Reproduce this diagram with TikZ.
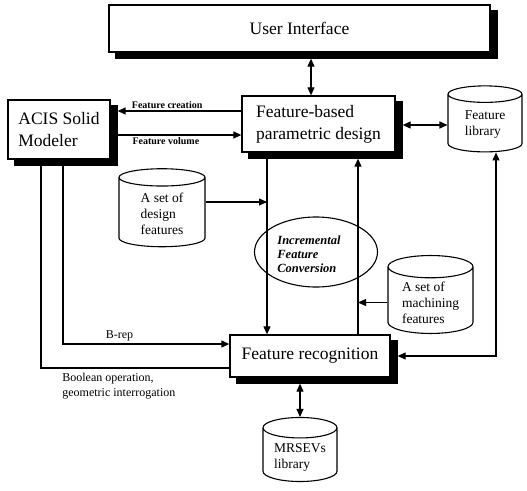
\documentclass[tikz,border=0pt]{standalone}
\usepackage{fontspec}
\setmainfont{Liberation Serif}
\usetikzlibrary{arrows.meta,shapes.geometric,backgrounds}
\begin{document}
\begin{tikzpicture}[x=1pt,y=-1pt,line width=1.1pt,
    box/.style={draw,fill=white,line width=1.3pt,align=left,
      font=\fontsize{17.5}{22}\selectfont},
    store/.style={draw,fill=white,cylinder,shape border rotate=90,aspect=0.35,
      align=left,font=\fontsize{13.5}{16}\selectfont},
    arr/.style={-{Triangle[length=8pt,width=7pt]}},
    dbl/.style={{Triangle[length=8pt,width=7pt]}-{Triangle[length=8pt,width=7pt]}},
    lbl/.style={font=\bfseries\fontsize{10}{12}\selectfont,inner sep=2pt},
    note/.style={font=\fontsize{12}{15}\selectfont,align=left,inner sep=2pt}]
  \useasboundingbox (0,0) rectangle (527,490);
  \coordinate (xa) at (41,0);
  \coordinate (xb) at (63,0);
  \coordinate (xd) at (267,0);
  \coordinate (xu) at (358,0);
  \coordinate (xr) at (496,0);

  \node[box,minimum width=381pt,minimum height=47pt] (ui) at (299.5,28.5) {User Interface};
  \node[box,minimum width=153pt,minimum height=56pt] (fbpd) at (318.5,124) {Feature-based\\parametric design};
  \node[box,minimum width=102pt,minimum height=59pt] (acis) at (59,129.5) {ACIS Solid\\Modeler};
  \node[box,minimum width=160pt,minimum height=42pt] (fr) at (310,356) {Feature recognition};
  \begin{scope}[on background layer]
    \foreach \n in {ui,fbpd,acis,fr}
      \fill ([shift={(7pt,-6pt)}]\n.south west) rectangle ([shift={(7pt,-6pt)}]\n.north east);
  \end{scope}

  \node[store,minimum width=74pt,minimum height=66pt] (flib) at (485,125) {Feature\\library};
  \node[store,minimum width=86pt,minimum height=78pt] (dset) at (162,214) {A set of\\design\\features};
  \node[store,minimum width=85pt,minimum height=71pt] (mset) at (430.5,302.5) {A set of\\machining\\features};
  \node[store,minimum width=74pt,minimum height=64pt] (mrsev) at (300,457) {MRSEVs\\library};

  \node[draw,ellipse,minimum width=123pt,minimum height=70pt] (ifc) at (316,252) {};
  \node[align=left,font=\bfseries\itshape\fontsize{12.5}{14}\selectfont] (ifctext) at (309,254) {Incremental\\Feature\\Conversion};

  \draw[dbl] ([xshift=-7.5pt]fbpd.north) -- ([xshift=-7.5pt,yshift=-6pt]fbpd.north |- ui.south);
  \draw[arr] (fbpd.west |- 0,111) -- ([xshift=7pt]acis.east |- 0,111)
    node[lbl,pos=0.6,above] (fcreate) {Feature creation};
  \draw[arr] ([xshift=7pt]acis.east |- 0,135) -- (fbpd.west |- 0,135)
    node[lbl,pos=0.39,below] (fvol) {Feature volume};
  \draw[dbl] ([xshift=7pt]fbpd.east |- flib.west) -- (flib.west);

  \draw[arr] ([yshift=-6pt]fbpd.south -| xd) -- (fr.north -| xd);
  \draw[arr] (fr.north -| xu) -- ([yshift=-6pt]fbpd.south -| xu);
  \draw[arr] ([yshift=12pt]dset.east) -- ([yshift=12pt]dset.east -| xd);
  \draw[arr] (mset.west) -- (mset.west -| xu);
  \draw[dbl] ([xshift=7pt]fr.east) -- (fr.east -| xr) -- (flib.south -| xr);
  \draw[dbl] ([yshift=-6pt]fr.south -| mrsev.north) -- (mrsev.north);

  \draw[arr] ([yshift=-6pt]acis.south -| xb) -- (xb |- 0,344) -- (fr.west |- 0,344)
    node[note,pos=0.34,above] (brep) {B-rep};
  \draw ([yshift=-6pt]acis.south -| xa) -- (xa |- 0,368) -- (fr.west |- 0,368)
    node[note,pos=0.1,below right,yshift=-3pt] (bool) {Boolean operation,\\geometric interrogation};
\end{tikzpicture}
\end{document}
